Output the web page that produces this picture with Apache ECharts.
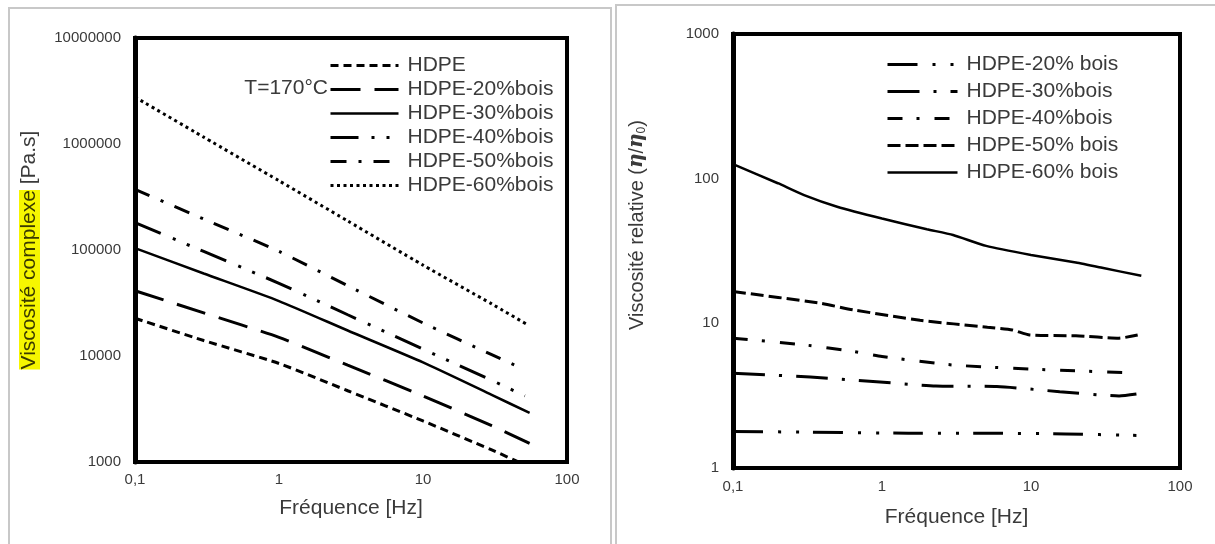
<!DOCTYPE html>
<html><head><meta charset="utf-8">
<script src="https://cdn.jsdelivr.net/npm/echarts@6/dist/echarts.min.js"></script>
<style>html,body{margin:0;padding:0;background:#fff}#c{width:1215px;height:544px}</style>
</head><body><div id="c"></div><script>
// ---- Left chart: complex viscosity [Pa.s] vs frequency [Hz], T=170°C ----
const leftNames = ['HDPE','HDPE-20%bois','HDPE-30%bois','HDPE-40%bois','HDPE-50%bois','HDPE-60%bois'];
const hdpeL = [[0.1,22700],[0.3,14000],[1,8500],[3,4700],[10,2440],[30,1300],[50,950]];
const b20L  = [[0.1,41300],[0.3,25500],[1,15000],[3,8200],[10,4200],[30,2200],[55,1500]];
const b30L  = [[0.1,104000],[0.3,60000],[1,33000],[3,17400],[10,8700],[30,4300],[55,2900]];
const b40L  = [[0.1,181000],[0.3,97000],[1,48500],[3,24500],[10,11600],[30,5900],[51,4200]];
const b50L  = [[0.1,374000],[0.3,196000],[1,97000],[3,46000],[10,20500],[30,10300],[49,7600]];
const b60L  = [[0.1,2770000],[0.3,1160000],[1,450000],[3,188000],[10,72000],[30,31000],[54,19500]];

// ---- Right chart: relative viscosity (eta/eta0) vs frequency [Hz] ----
const rightNames = ['HDPE-20% bois','HDPE-30%bois','HDPE-40%bois','HDPE-50% bois','HDPE-60% bois'];
const b20R = [[0.1,1.79],[0.3,1.77],[1.5,1.74],[5,1.74],[17,1.72],[51,1.68]];
const b30R = [[0.1,4.52],[0.33,4.25],[0.87,3.96],[2.3,3.69],[5.9,3.66],[15.6,3.37],[39,3.15],[51,3.25]];
const b40R = [[0.1,7.9],[0.3,7.1],[0.64,6.4],[1,5.9],[3,5.15],[14,4.76],[45,4.56]];
const b50R = [[0.1,16.6],[0.38,13.8],[0.64,12.4],[1.8,10.5],[5.1,9.4],[7.5,9.0],[9.8,8.3],[20,8.2],[39,7.9],[52,8.3]];
const b60R = [[0.1,126],[0.2,93],[0.3,77],[0.5,64],[1,53],[2,44.7],[3,40.8],[5,34.3],[10,29.7],[20,26.3],[30,24.2],[55,21.3]];

const FONT = '"Liberation Sans", Arial, sans-serif';
const TXT = '#3a3a3a';
const RP = 'R:'; // internal prefix so right-chart series names stay unique

const leftData = [hdpeL, b20L, b30L, b40L, b50L, b60L];
const leftDash = [[8,5],[30,14],'solid',[28,13,3,12,3,12],[16,12,3,12],[3,3.5]];
const leftWidth = [3,3,2.5,3,3,3];
const rightData = [b20R, b30R, b40R, b50R, b60R];
const rightDash = [[30,15,3,15,3,14],[32,14,3,14],[15,14,3,15],[13,5],'solid'];
const rightWidth = [3,3,3,3,2.5];

function xAx(gi, gap, margin){
  return {gridIndex: gi, type:'log', logBase:10, min:0.1, max:100,
    name:'Fréquence [Hz]', nameLocation:'middle', nameGap:gap,
    nameTextStyle:{fontFamily:FONT, fontSize:21, color:TXT},
    axisLine:{show:true, lineStyle:{color:'#000', width:4}},
    axisTick:{show:false}, minorTick:{show:false}, splitLine:{show:false}, minorSplitLine:{show:false},
    axisLabel:{fontFamily:FONT, fontSize:15, color:TXT, margin:margin,
      formatter: v => String(+(+v).toPrecision(6)).replace('.', ',')}};
}
function yAx(gi, min, max, name, gap, rich, pad){
  return {gridIndex: gi, type:'log', logBase:10, min:min, max:max,
    name:name, nameLocation:'middle', nameGap:gap, nameRotate:90,
    nameTextStyle:{fontFamily:FONT, fontSize:21, color:TXT, rich:rich, padding:pad},
    axisLine:{show:true, lineStyle:{color:'#000', width:5}},
    axisTick:{show:false}, minorTick:{show:false}, splitLine:{show:false}, minorSplitLine:{show:false},
    axisLabel:{fontFamily:FONT, fontSize:15, color:TXT, margin:14,
      formatter: v => String(Math.round(v))}};
}

const series = [];
leftNames.forEach((n,i) => series.push({name:n, type:'line', xAxisIndex:0, yAxisIndex:0,
  data:leftData[i], symbol:'none', smooth:0.2, clip:true,
  lineStyle:{color:'#000', width:leftWidth[i], type:leftDash[i]}}));
rightNames.forEach((n,i) => series.push({name:RP + n, type:'line', xAxisIndex:1, yAxisIndex:1,
  data:rightData[i], symbol:'none', smooth:0.2, clip:true,
  lineStyle:{color:'#000', width:rightWidth[i], type:rightDash[i]}}));

const legendCommon = {orient:'vertical', itemHeight:14, padding:0,
  itemStyle:{color:'transparent', borderColor:'transparent', borderWidth:0},
  lineStyle:{type:'inherit', width:'inherit', color:'#000'},
  textStyle:{fontFamily:FONT, fontSize:21, color:TXT, lineHeight:20, padding:[0,0,0,4]},
  formatter: n => n.indexOf(RP) === 0 ? n.slice(RP.length) : n,
  selectedMode:false};

const option = {
  animation:false,
  backgroundColor:'#fff',
  grid:[
    {left:135, top:38, width:432, height:424, show:true, borderColor:'#000', borderWidth:4, backgroundColor:'transparent'},
    {left:733, top:34, width:447, height:434, show:true, borderColor:'#000', borderWidth:4, backgroundColor:'transparent'}
  ],
  xAxis:[xAx(0,36,10), xAx(1,39,11)],
  yAxis:[
    yAx(0, 1000, 10000000, '{h|Viscosité complexe}{n| [Pa.s]}', 95,
      {h:{fontFamily:FONT, fontSize:21, color:'#3a3a00', backgroundColor:'#f6f600'},
       n:{fontFamily:FONT, fontSize:21, color:TXT}}, 0),
    yAx(1, 1, 1000, '{n|Viscosité relative (}{e|η}{n|/}{e|η}{s|0}{n|)}', 85,
      {n:{fontFamily:FONT, fontSize:20, color:TXT, lineHeight:22},
       e:{fontFamily:'"DejaVu Serif", serif', fontSize:20, fontStyle:'italic', fontWeight:'bold', color:TXT, lineHeight:22},
       s:{fontFamily:FONT, fontSize:12, color:TXT, lineHeight:22, verticalAlign:'bottom'}}, [0,0,0,52])
  ],
  legend:[
    Object.assign({}, legendCommon, {data:leftNames, left:329, top:55, itemWidth:68, itemGap:3}),
    Object.assign({}, legendCommon, {data:rightNames.map(n => RP + n), left:886, top:54, itemWidth:70, itemGap:6})
  ],
  graphic:[
    {type:'rect', shape:{x:9, y:8, width:602, height:560}, style:{fill:'none', stroke:'#c8c8c8', lineWidth:2}, silent:true, z:-10},
    {type:'rect', shape:{x:616, y:5, width:600, height:560}, style:{fill:'none', stroke:'#c8c8c8', lineWidth:2}, silent:true, z:-10},
    {type:'text', right:1215-328, top:78, style:{text:'T=170°C', font:'21px ' + FONT, fill:TXT}, silent:true}
  ],
  series:series
};

const chart = echarts.init(document.getElementById('c'), null, {renderer:'canvas'});
chart.setOption(option);
</script></body></html>
